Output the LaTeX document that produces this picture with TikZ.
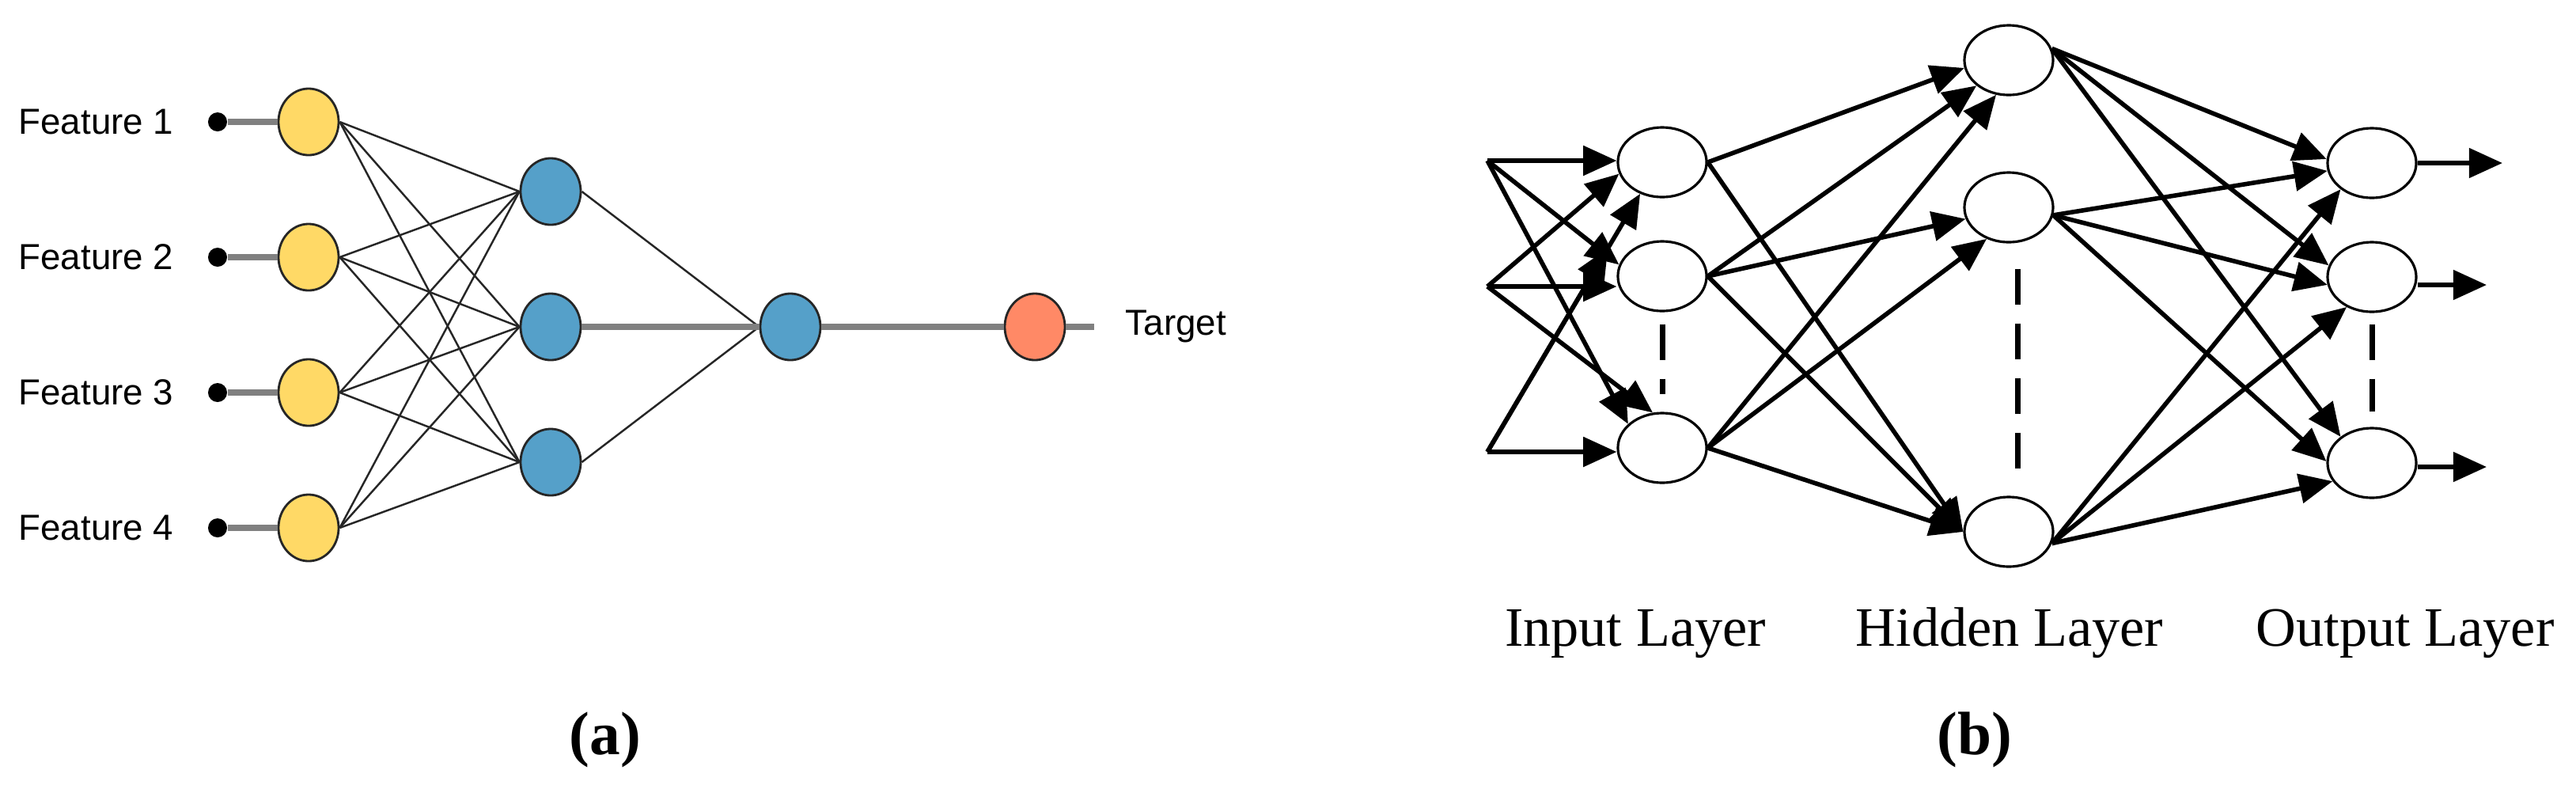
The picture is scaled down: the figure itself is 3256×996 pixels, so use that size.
\documentclass[tikz,border=0pt]{standalone}
\usepackage{fontspec}
\usepackage{tikz}
\newfontfamily\featfont{Liberation Sans}
\newfontfamily\capfont{Liberation Serif}
\usetikzlibrary{shapes, arrows.meta, positioning}

\definecolor{featyellow}{RGB}{255,217,102}
\definecolor{hidblue}{RGB}{85,160,201}
\definecolor{targred}{RGB}{255,137,102}
\definecolor{wiregray}{RGB}{128,128,128}

\begin{document}
\begin{tikzpicture}[x=0.01cm, y=-0.01cm,
	featnode/.style={ellipse, draw=black!85, line width=0.8pt, minimum width=0.76cm, minimum height=0.84cm, inner sep=0pt},
	featdot/.style={circle, fill=black, minimum size=0.24cm, inner sep=0pt},
	thin wire/.style={black!85, line width=0.7pt},
	thick wire/.style={wiregray, line width=2.3pt},
	neuron/.style={ellipse, draw, line width=0.9pt, minimum width=1.12cm, minimum height=0.88cm, inner sep=0pt},
	arr/.style={line width=1.6pt, -{Triangle[length=12pt,width=10.5pt]}},
	dashgap/.style={line width=2pt, dash pattern=on 0.45cm off 0.24cm},
	feat/.style={font=\featfont\fontsize{13}{15}\selectfont, inner sep=0pt},
	layertext/.style={font=\capfont\fontsize{20}{22}\selectfont, anchor=base},
	subcap/.style={font=\capfont\bfseries\fontsize{22}{24}\selectfont, anchor=base}]
	\useasboundingbox (0,0) rectangle (3256,996);

	% (a) feed-forward net with features
	\foreach \k/\y in {1/154,2/325,3/496,4/667}{
		\node[featdot] (d\k) at (275,\y) {};
		\node[featnode, fill=featyellow] (f\k) at (390,\y) {};
		\node[feat, anchor=east] (t\k) at (220,\y) {Feature \k};
		\draw[thick wire] (d\k) -- (f\k);
	}
	\node[featnode, fill=hidblue] (m1) at (696,242) {};
	\node[featnode, fill=hidblue] (m2) at (696,413) {};
	\node[featnode, fill=hidblue] (m3) at (696,584) {};
	\node[featnode, fill=hidblue] (comb) at (999,413) {};
	\node[featnode, fill=targred] (tgt) at (1308,413) {};
	\coordinate (tend) at (1383,413);
	\node[feat, anchor=west] (tlab) at (1422,413) {Target};
	\foreach \k in {1,...,4}
		\foreach \j in {1,2,3}
			\draw[thin wire] (f\k.east) -- (m\j.west);
	\draw[thin wire] (m1.east) -- (comb.west);
	\draw[thin wire] (m3.east) -- (comb.west);
	\draw[thick wire] (m2) -- (comb);
	\draw[thick wire] (comb) -- (tgt);
	\draw[thick wire] (tgt) -- (tend);
	\node[subcap] (capa) at (765,953) {(a)};

	% (b) input, hidden and output layers
	\coordinate (s1) at (1880,203);
	\coordinate (s2) at (1880,362);
	\coordinate (s3) at (1880,571);
	\node[neuron] (i1) at (2101,205) {};
	\node[neuron] (i2) at (2101,349) {};
	\node[neuron] (i3) at (2101,566) {};
	\node[neuron] (h1) at (2539,76) {};
	\node[neuron] (h2) at (2539,262) {};
	\node[neuron] (h3) at (2539,672) {};
	\node[neuron] (o1) at (2998,206) {};
	\node[neuron] (o2) at (2998,350) {};
	\node[neuron] (o3) at (2998,585) {};
	\coordinate (y1) at (3163,206);
	\coordinate (y2) at (3143,360);
	\coordinate (y3) at (3143,590);

	\draw[arr] (s1) -- (s1 -| i1.west);
	\draw[arr] (s1) -- (i2.165);
	\draw[arr] (s1) -- (i3.145);
	\draw[arr] (s2) -- (i1.195);
	\draw[arr] (s2) -- (s2 -| i2.west);
	\draw[arr] (s2) -- (i3.105);
	\draw[arr] (s3) -- (i1.235);
	\draw[arr, shorten >=0.8cm] (s3) -- (i1.235);
	\draw[arr] (s3) -- (s3 -| i3.west);

	\draw[arr] (i1.east) -- (h1.190);
	\draw[arr] (i1.east) -- (h3.west);
	\draw[arr] (i2.east) -- (h1.south west);
	\draw[arr] (i2.east) -- (h2.195);
	\draw[arr] (i2.east) -- (h3.west);
	\draw[arr] (i3.east) -- (h1.250);
	\draw[arr] (i3.east) -- (h2.235);
	\draw[arr] (i3.east) -- (h3.west);

	\draw[arr] (h1.15) -- (o1.175);
	\draw[arr] (h1.15) -- (o2.165);
	\draw[arr] (h1.15) -- (o3.140);
	\draw[arr] (h2.350) -- (o1.190);
	\draw[arr] (h2.350) -- (o2.190);
	\draw[arr] (h2.350) -- (o3.178);
	\draw[arr] (h3.345) -- (o1.220);
	\draw[arr] (h3.345) -- (o2.230);
	\draw[arr] (h3.345) -- (o3.205);

	\draw[arr] (o1.east |- y1) -- (y1);
	\draw[arr] (o2.east |- y2) -- (y2);
	\draw[arr] (o3.east |- y3) -- (y3);

	\draw[dashgap, shorten <=0.15cm, shorten >=0.22cm] (i2.south) -- (i3.north);
	\draw[dashgap, shorten <=0.33cm, shorten >=0.16cm] (h2.285) -- (h3.75);
	\draw[dashgap, shorten <=0.14cm, shorten >=0.19cm] (o2.south) -- (o3.north);

	\node[layertext] (lin) at (2067,816) {Input Layer};
	\node[layertext] (lhid) at (2540,816) {Hidden Layer};
	\node[layertext] (lout) at (3040,816) {Output Layer};
	\node[subcap] (capb) at (2496,953) {(b)};
\end{tikzpicture}
\end{document}
